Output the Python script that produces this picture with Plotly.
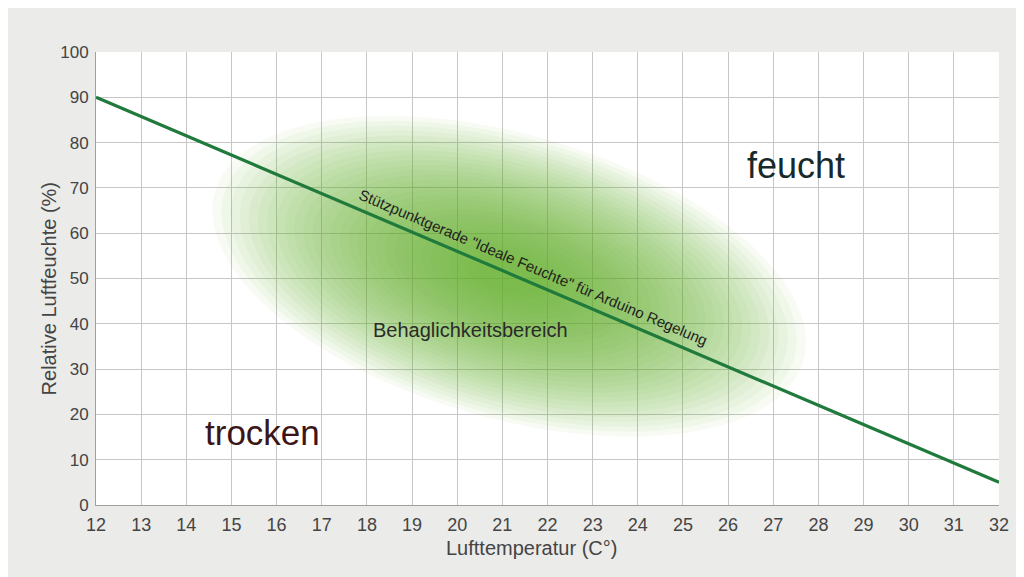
import numpy as np
import plotly.graph_objects as go

# data
temp = [12, 32]
humidity = [90, 5]
x_ticks = list(range(12, 33))
y_ticks = list(range(0, 101, 10))

# comfort zone (blurred ellipse)
zone_center = (21.15, 50.5)     # (°C, %)
zone_axes_px = (306, 142)       # semi axes in screen px
zone_angle = 16                 # degrees, tilted down to the right
px_per_x = 903 / 20
px_per_y = 453 / 100

fig = go.Figure()

# soft green blob from stacked translucent ellipses
t = np.linspace(0, 2 * np.pi, 120)
ang = np.radians(zone_angle)
n_layers = 30
for k in range(n_layers):
    s = 1.0 - k / n_layers * 0.92
    ex = zone_axes_px[0] * s * np.cos(t)
    ey = zone_axes_px[1] * s * np.sin(t)
    rx = ex * np.cos(ang) - ey * np.sin(ang)
    ry = ex * np.sin(ang) + ey * np.cos(ang)
    fig.add_trace(go.Scatter(
        x=zone_center[0] + rx / px_per_x,
        y=zone_center[1] - ry / px_per_y,
        mode='lines', fill='toself', line=dict(width=0),
        fillcolor='rgba(95,180,40,0.052)',
        hoverinfo='skip', showlegend=False))

fig.add_trace(go.Scatter(x=temp, y=humidity, mode='lines',
                         line=dict(color='#1f7a3c', width=3.2),
                         showlegend=False))

font = 'Liberation Sans, Arial, sans-serif'

fig.update_layout(
    width=1016, height=569,
    margin=dict(l=88, r=25, t=44, b=72),
    paper_bgcolor='#ebebe9', plot_bgcolor='white',
    font=dict(family=font, color='#444'),
    xaxis=dict(range=[12, 32], tickvals=x_ticks, showgrid=True,
               gridcolor='#c6c6c6', gridwidth=1, zeroline=False,
               showline=True, linecolor='#a0a0a0', linewidth=1,
               ticks='outside', ticklen=3, tickcolor='rgba(0,0,0,0)',
               tickfont=dict(size=18, color='#444')),
    yaxis=dict(range=[0, 100], tickvals=y_ticks, showgrid=True,
               gridcolor='#c6c6c6', gridwidth=1, zeroline=False,
               showline=True, linecolor='#a0a0a0', linewidth=1,
               ticks='outside', ticklen=3, tickcolor='rgba(0,0,0,0)',
               tickfont=dict(size=17, color='#444')),
)

fig.add_annotation(text='Lufttemperatur (C°)', xref='paper', yref='paper',
                   x=0.482, y=-0.095, xanchor='center', yanchor='middle',
                   showarrow=False, font=dict(size=20, color='#444'))
fig.add_annotation(text='Relative Luftfeuchte (%)', xref='paper', yref='paper',
                   x=-0.051, y=0.478, xanchor='center', yanchor='middle',
                   textangle=-90, showarrow=False,
                   font=dict(size=20, color='#444'))
fig.add_annotation(text='feucht', x=27.5, y=75, showarrow=False,
                   font=dict(size=36, color='#17292b'))
fig.add_annotation(text='trocken', x=15.68, y=15.9, showarrow=False,
                   font=dict(size=35, color='#3b1518'))
fig.add_annotation(text='Behaglichkeitsbereich', x=20.3, y=38.6, showarrow=False,
                   font=dict(size=20, color='#2a2a2a'))
fig.add_annotation(text='Stützpunktgerade "Ideale Feuchte" für Arduino Regelung',
                   x=21.7, y=52.5, textangle=23, showarrow=False,
                   font=dict(size=15, color='#1e1e1e'))

fig.write_html('out.html', default_width='1016px', default_height='569px')
